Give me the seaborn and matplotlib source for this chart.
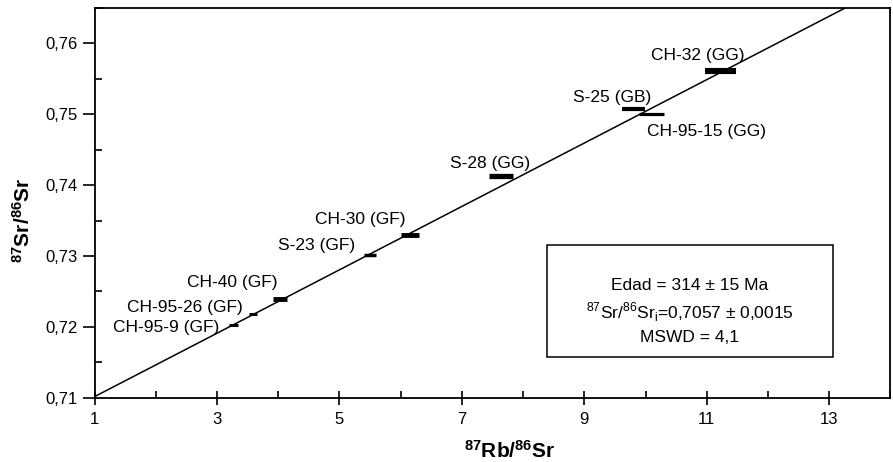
import matplotlib
matplotlib.use('Agg')
import matplotlib.pyplot as plt
from matplotlib.patches import Rectangle
from matplotlib.ticker import MultipleLocator, FixedLocator, FuncFormatter
import seaborn as sns
import pandas as pd

# sample data
muestras = ['CH-95-9 (GF)', 'CH-95-26 (GF)', 'CH-40 (GF)', 'S-23 (GF)', 'CH-30 (GF)',
            'S-28 (GG)', 'S-25 (GB)', 'CH-95-15 (GG)', 'CH-32 (GG)']
rb_sr = [3.27, 3.58, 4.03, 5.50, 6.15, 7.64, 9.80, 10.10, 11.23]
rb_sr_err = [0.07, 0.065, 0.11, 0.10, 0.15, 0.20, 0.19, 0.21, 0.25]
sr_sr = [0.7202, 0.7218, 0.7239, 0.7301, 0.7329, 0.7413, 0.7508, 0.7500, 0.7561]
grosor = [2.2, 2.2, 3.5, 2.5, 3.5, 3.8, 3.0, 2.3, 4.4]

# label positions (centre of text)
etiqueta_x = [2.16, 2.48, 3.24, 4.63, 5.34, 7.46, 9.45, 11.00, 10.86]
etiqueta_y = [0.7199, 0.7228, 0.7262, 0.7315, 0.7351, 0.7431, 0.7524, 0.7475, 0.7583]

# isochron line
iso_x = [1.0, 14.0]
iso_y = [0.71017, 0.76828]

x_ticks = [1, 3, 5, 7, 9, 11, 13]

df = pd.DataFrame({'x': rb_sr, 'xerr': rb_sr_err, 'y': sr_sr, 'lw': grosor})

sns.set_theme(style='ticks')
plt.rcParams['font.family'] = ['Liberation Sans', 'DejaVu Sans']
plt.rcParams['mathtext.fontset'] = 'custom'
plt.rcParams['mathtext.rm'] = 'Liberation Sans'
plt.rcParams['mathtext.bf'] = 'Liberation Sans:bold'
plt.rcParams['text.color'] = 'black'
plt.rcParams['axes.labelcolor'] = 'black'
plt.rcParams['xtick.color'] = 'black'
plt.rcParams['ytick.color'] = 'black'

fig = plt.figure(figsize=(8.93, 4.62), dpi=100)
ax = fig.add_axes([0.106, 0.139, 0.891, 0.844])

sns.lineplot(x=iso_x, y=iso_y, ax=ax, color='black', linewidth=1.1)
ax.hlines(df['y'], df['x'] - df['xerr'], df['x'] + df['xerr'],
          colors='black', linewidth=df['lw'], zorder=3)

for nombre, tx, ty in zip(muestras, etiqueta_x, etiqueta_y):
    ax.text(tx, ty, nombre, ha='center', va='center', fontsize=12.5, color='black')

# result box
ax.add_patch(Rectangle((8.39, 0.7158), 13.06 - 8.39, 0.7316 - 0.7158,
                       fill=False, edgecolor='black', linewidth=1.1, zorder=4))
ax.text(10.72, 0.7259, 'Edad = 314 ± 15 Ma', ha='center', va='center', fontsize=12.5)
ax.text(10.72, 0.7221, r'$^{87}$Sr/$^{86}$Sr$_{\rm i}$=0,7057 ± 0,0015',
        ha='center', va='center', fontsize=12.5)
ax.text(10.72, 0.7185, 'MSWD = 4,1', ha='center', va='center', fontsize=12.5)

ax.set_xlim(1, 14)
ax.set_ylim(0.71, 0.765)
ax.xaxis.set_major_locator(FixedLocator(x_ticks))
ax.xaxis.set_minor_locator(MultipleLocator(1))
ax.yaxis.set_major_locator(MultipleLocator(0.01))
ax.yaxis.set_minor_locator(MultipleLocator(0.005))
ax.xaxis.set_major_formatter(FuncFormatter(lambda v, p: f'{v:.0f}'))
ax.yaxis.set_major_formatter(FuncFormatter(lambda v, p: f'{v:.2f}'.replace('.', ',')))

ax.tick_params(axis='x', which='major', direction='inout', length=10, width=1.2,
               labelsize=12, pad=5)
ax.tick_params(axis='x', which='minor', direction='in', length=5, width=1.2)
ax.tick_params(axis='y', which='major', direction='out', length=9, width=1.2,
               labelsize=12, pad=3)
ax.tick_params(axis='y', which='minor', direction='in', length=5, width=1.2)

for lado in ['top', 'right', 'bottom', 'left']:
    ax.spines[lado].set_visible(True)
    ax.spines[lado].set_color('black')
    ax.spines[lado].set_linewidth(1.3)

ax.set_xlabel(r'$\mathbf{^{87}Rb/^{86}Sr}$', fontsize=15)
ax.set_ylabel(r'$\mathbf{^{87}Sr/^{86}Sr}$', fontsize=15)
ax.xaxis.set_label_coords(0.522, -0.108)
ax.yaxis.set_label_coords(-0.077, 0.456)

fig.savefig('out.png', dpi=100)
